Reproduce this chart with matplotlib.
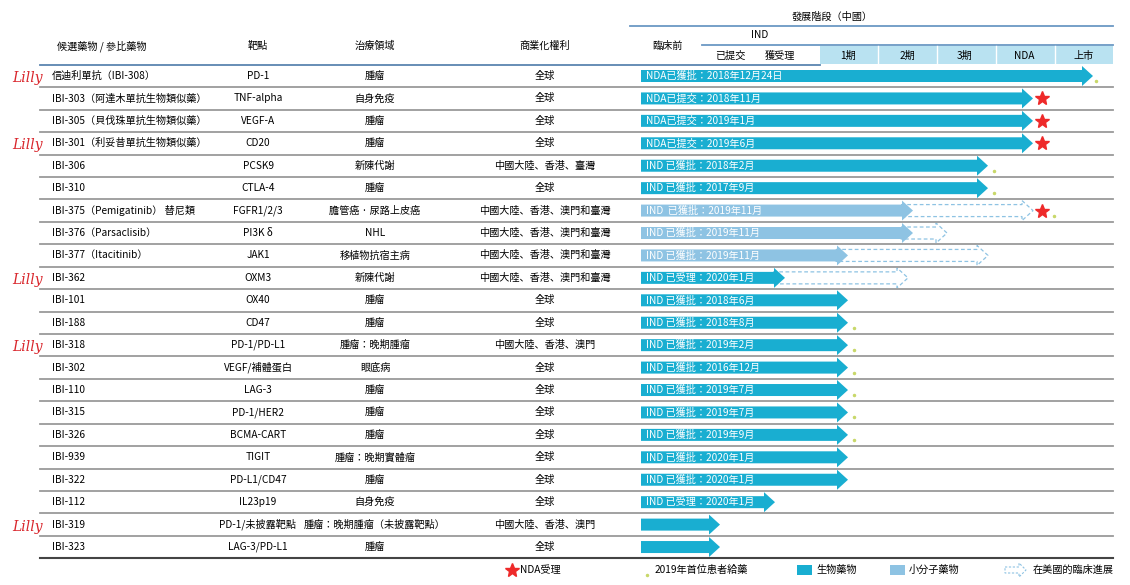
import matplotlib
matplotlib.use("Agg")
import matplotlib.pyplot as plt
from matplotlib.patches import Polygon, Rectangle
plt.rcParams['font.family'] = ['Noto Sans CJK JP', 'Noto Sans CJK SC', 'Noto Sans CJK TC', 'DejaVu Sans']

drugs = ["信迪利單抗（IBI-308）", "IBI-303（阿達木單抗生物類似藥）", "IBI-305（貝伐珠單抗生物類似藥）",
         "IBI-301（利妥昔單抗生物類似藥）", "IBI-306", "IBI-310", "IBI-375（Pemigatinib） 替尼類",
         "IBI-376（Parsaclisib）", "IBI-377（Itacitinib）", "IBI-362", "IBI-101", "IBI-188", "IBI-318",
         "IBI-302", "IBI-110", "IBI-315", "IBI-326", "IBI-939", "IBI-322", "IBI-112", "IBI-319", "IBI-323"]
targets = ["PD-1", "TNF-alpha", "VEGF-A", "CD20", "PCSK9", "CTLA-4", "FGFR1/2/3", "PI3K δ", "JAK1", "OXM3",
           "OX40", "CD47", "PD-1/PD-L1", "VEGF/補體蛋白", "LAG-3", "PD-1/HER2", "BCMA-CART", "TIGIT",
           "PD-L1/CD47", "IL23p19", "PD-1/未披露靶點", "LAG-3/PD-L1"]
fields = ["腫瘤", "自身免疫", "腫瘤", "腫瘤", "新陳代謝", "腫瘤", "膽管癌 · 尿路上皮癌", "NHL", "移植物抗宿主病",
          "新陳代謝", "腫瘤", "腫瘤", "腫瘤：晚期腫瘤", "眼底病", "腫瘤", "腫瘤", "腫瘤", "腫瘤：晚期實體瘤",
          "腫瘤", "自身免疫", "腫瘤：晚期腫瘤（未披露靶點）", "腫瘤"]
rights = ["全球", "全球", "全球", "全球", "中國大陸、香港、臺灣", "全球", "中國大陸、香港、澳門和臺灣",
          "中國大陸、香港、澳門和臺灣", "中國大陸、香港、澳門和臺灣", "中國大陸、香港、澳門和臺灣", "全球", "全球",
          "中國大陸、香港、澳門", "全球", "全球", "全球", "全球", "全球", "全球", "全球", "中國大陸、香港、澳門", "全球"]
status = ["NDA已獲批：2018年12月24日", "NDA已提交：2018年11月", "NDA已提交：2019年1月", "NDA已提交：2019年6月",
          "IND 已獲批：2018年2月", "IND 已獲批：2017年9月", "IND  已獲批：2019年11月", "IND 已獲批：2019年11月",
          "IND 已獲批：2019年11月", "IND 已受理：2020年1月", "IND 已獲批：2018年6月", "IND 已獲批：2018年8月",
          "IND 已獲批：2019年2月", "IND 已獲批：2016年12月", "IND 已獲批：2019年7月", "IND 已獲批：2019年7月",
          "IND 已獲批：2019年9月", "IND 已獲批：2020年1月", "IND 已獲批：2020年1月", "IND 已受理：2020年1月", "", ""]
# stage reached in China: 0.6/0.7=IND accepted,1=Ph1,2=Ph2,3=Ph3,4=NDA,5=marketed
stage = [5, 4, 4, 4, 3, 3, 2, 2, 1, 0.7, 1, 1, 1, 1, 1, 1, 1, 1, 1, 0.6, 0, 0]
us_stage = [None, None, None, None, None, None, 4, 2.5, 3, 1.9, None, None, None, None, None, None, None, None, None, None, None, None]
small_mol = [0, 0, 0, 0, 0, 0, 1, 1, 1, 0, 0, 0, 0, 0, 0, 0, 0, 0, 0, 0, 0, 0]
nda_star = [0, 1, 1, 1, 0, 0, 1, 0, 0, 0, 0, 0, 0, 0, 0, 0, 0, 0, 0, 0, 0, 0]
first_dose = [1, 0, 0, 0, 1, 1, 1, 0, 0, 0, 0, 1, 1, 1, 1, 1, 1, 0, 0, 0, 0, 0]
lilly = [1, 0, 0, 1, 0, 0, 0, 0, 0, 1, 0, 0, 1, 0, 0, 0, 0, 0, 0, 0, 1, 0]

BIO = "#19aed1"; SMALL = "#8ec3e3"
stage_x = {0: 720, 0.6: 775, 0.7: 785, 1: 848, 1.9: 908, 2: 913, 2.5: 947, 3: 988, 4: 1033, 5: 1093}

fig = plt.figure(figsize=(11.3, 5.85), dpi=100)
ax = fig.add_axes([0, 0, 1, 1]); ax.set_xlim(0, 1130); ax.set_ylim(585, 0); ax.axis("off")
fs = 7.3
# header
ax.text(832, 17, "發展階段（中國）", ha="center", va="center", fontsize=fs)
ax.plot([630, 1113], [26, 26], color="#6b98c4", lw=1.3)
ax.text(760, 35, "IND", ha="center", va="center", fontsize=fs)
ax.plot([702, 1113], [45, 45], color="#6b98c4", lw=1.3)
ax.add_patch(Rectangle((820, 46), 293, 18, color="#b9e2f1", lw=0))
for xx in [878, 937, 996, 1055]:
    ax.plot([xx, xx], [46, 64], color="white", lw=1)
for t, xx in zip(["已提交", "獲受理", "1期", "2期", "3期", "NDA", "上市"], [730, 780, 848, 907, 965, 1024, 1084]):
    ax.text(xx, 56, t, ha="center", va="center", fontsize=fs)
for t, xx in zip(["候選藥物 / 參比藥物", "靶點", "治療領域", "商業化權利", "臨床前"], [102, 258, 375, 545, 667]):
    ax.text(xx, 46, t, ha="center", va="center", fontsize=fs)
ax.plot([40, 820], [65, 65], color="#5b85b0", lw=1.3)

def arrow(x0, x1, y, color, dashed=False):
    bh, hh, hl = 6, 10, 11
    pts = [(x0, y - bh), (x1 - hl, y - bh), (x1 - hl, y - hh), (x1, y), (x1 - hl, y + hh), (x1 - hl, y + bh), (x0, y + bh)]
    if dashed:
        ax.add_patch(Polygon(pts, closed=True, fill=False, ec=SMALL, ls=(0, (3, 2)), lw=0.9))
    else:
        ax.add_patch(Polygon(pts, closed=True, color=color, lw=0))

y0, dy = 76, 22.43
for i in range(len(drugs)):
    y = y0 + i * dy
    ax.text(52, y, drugs[i], ha="left", va="center", fontsize=fs)
    ax.text(258, y, targets[i], ha="center", va="center", fontsize=fs)
    ax.text(375, y, fields[i], ha="center", va="center", fontsize=fs)
    ax.text(545, y, rights[i], ha="center", va="center", fontsize=fs)
    col = SMALL if small_mol[i] else BIO
    x1 = stage_x[stage[i]]
    if us_stage[i] is not None:
        arrow(x1 - 12, stage_x[us_stage[i]], y, col, dashed=True)
    arrow(641, x1, y, col)
    if status[i]:
        ax.text(646, y, status[i], ha="left", va="center", fontsize=fs, color="white")
    if nda_star[i]:
        ax.plot(1042, y, marker="*", color="#ee2a2a", ms=10)
    if first_dose[i]:
        xd = 1096 if stage[i] == 5 else (1054 if nda_star[i] else x1 + 6)
        ax.plot(xd, y + 5, marker="o", color="#c8d86a", ms=1.5)
    if lilly[i]:
        ax.text(28, y + 2, "Lilly", ha="center", va="center", fontsize=10, color="#d9262c", style="italic", family="DejaVu Serif")
    if i < len(drugs) - 1:
        ax.plot([40, 1113], [y + dy / 2, y + dy / 2], color="#9a9a9a", lw=1.3)
ax.plot([40, 1113], [y0 + 21.5 * dy, y0 + 21.5 * dy], color="#444444", lw=1.5)

# legend
ax.plot(512, 570, marker="*", color="#ee2a2a", ms=10)
ax.text(520, 570, "NDA受理", ha="left", va="center", fontsize=fs)
ax.plot(647, 575, marker="o", color="#c8d86a", ms=1.5)
ax.text(655, 570, "2019年首位患者給藥", ha="left", va="center", fontsize=fs)
ax.add_patch(Rectangle((797, 565), 15, 10, color=BIO, lw=0))
ax.text(816, 570, "生物藥物", ha="left", va="center", fontsize=fs)
ax.add_patch(Rectangle((890, 565), 15, 10, color=SMALL, lw=0))
ax.text(909, 570, "小分子藥物", ha="left", va="center", fontsize=fs)
ax.add_patch(Polygon([(1005, 567), (1019, 567), (1019, 563), (1026, 570), (1019, 577), (1019, 573), (1005, 573)],
                     closed=True, fill=False, ec=SMALL, ls=(0, (2, 1.5)), lw=0.8))
ax.text(1033, 570, "在美國的臨床進展", ha="left", va="center", fontsize=fs)
fig.savefig("out.png", dpi=100)
